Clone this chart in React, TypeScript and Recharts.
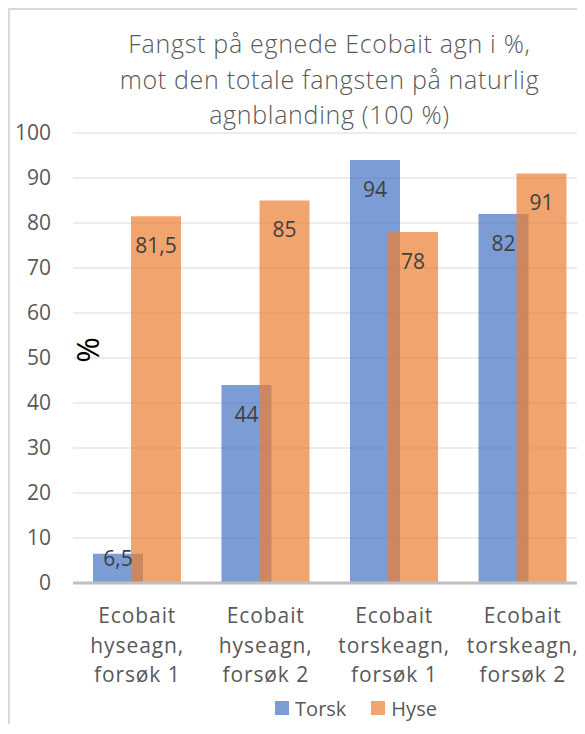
import { BarChart, Bar, XAxis, YAxis, CartesianGrid, Legend } from 'recharts';

const categories = [
  'Ecobait\nhyseagn,\nforsøk 1',
  'Ecobait\nhyseagn,\nforsøk 2',
  'Ecobait\ntorskeagn,\nforsøk 1',
  'Ecobait\ntorskeagn,\nforsøk 2',
];
const torsk = [6.5, 44, 94, 82];
const hyse = [81.5, 85, 78, 91];
const yTicks = [0, 10, 20, 30, 40, 50, 60, 70, 80, 90, 100];
const titleLines = [
  'Fangst på egnede Ecobait agn i %,',
  'mot den totale fangsten på naturlig',
  'agnblanding (100 %)',
];
const seriesNames = ['Torsk', 'Hyse'];
const seriesColors = ['#4472C4', '#ED7D31'];

const data = categories.map((name, i) => ({ name, Torsk: torsk[i], Hyse: hyse[i] }));

const FONT = '"Open Sans", "Noto Sans", sans-serif';

function XTick(props: any) {
  const { x, y, payload } = props;
  const lines = String(payload.value).split('\n');
  return (
    <text textAnchor="middle" fill="#595959" fontSize={21} letterSpacing={0.9}>
      {lines.map((l, i) => (
        <tspan key={i} x={x} y={y + 40 + i * 29.5}>{l}</tspan>
      ))}
    </text>
  );
}

function BarLabel(props: any) {
  const { x, y, width, height, value } = props;
  const cy = Math.min(y + 29, y + height - 25);
  return (
    <text x={x + width / 2} y={cy + 7.5} textAnchor="middle" fill="#404040" fontSize={21}>
      {String(value).replace('.', ',')}
    </text>
  );
}

function LegendContent() {
  return (
    <div style={{ display: 'flex', justifyContent: 'center', alignItems: 'center', height: 30 }}>
      {seriesNames.map((n, i) => (
        <div key={n} style={{ display: 'flex', alignItems: 'center', marginLeft: i ? 25 : 0 }}>
          <span style={{ width: 14, height: 14, background: seriesColors[i], opacity: 0.7, marginRight: 6 }} />
          <span style={{ fontSize: 20, color: '#595959' }}>{n}</span>
        </div>
      ))}
    </div>
  );
}

export default function App() {
  return (
    <div style={{ position: 'relative', width: 577, height: 716, overflow: 'hidden', fontFamily: FONT }}>
      <div style={{ position: 'absolute', left: 0, top: 0, width: 700, height: 800, borderLeft: '2px solid #d9d9d9', borderTop: '2px solid #d9d9d9', boxSizing: 'border-box' }} />
      <BarChart
        width={640}
        height={740}
        data={data}
        margin={{ top: 125, right: 61, left: 0, bottom: 15 }}
        barSize={50}
        barGap={-12}
      >
        <CartesianGrid vertical={false} stroke="#e6e6e6" strokeWidth={1.5} />
        <XAxis
          dataKey="name"
          height={120}
          tickSize={0}
          tickMargin={0}
          tick={<XTick />}
          axisLine={{ stroke: '#bfbfbf', strokeWidth: 3 }}
          tickLine={false}
          interval={0}
        />
        <YAxis
          width={65}
          domain={[0, 100]}
          ticks={yTicks}
          tickSize={0}
          tickMargin={22}
          axisLine={false}
          tickLine={false}
          tick={{ fontSize: 21, fill: '#595959' }}
        />
        <Legend
          verticalAlign="bottom"
          content={<LegendContent />}
          wrapperStyle={{ top: 685, left: 0, width: 696, height: 30, bottom: 'auto' }}
        />
        <Bar dataKey="Torsk" fill={seriesColors[0]} fillOpacity={0.7} isAnimationActive={false} label={<BarLabel />} />
        <Bar dataKey="Hyse" fill={seriesColors[1]} fillOpacity={0.7} isAnimationActive={false} label={<BarLabel />} />
      </BarChart>
      <svg width={577} height={716} style={{ position: 'absolute', left: 0, top: 0, pointerEvents: 'none' }}>
        {titleLines.map((t, i) => (
          <text key={i} x={321.5} y={45 + i * 35.5} textAnchor="middle" fill="#595959" fontSize={25} fontWeight={300} letterSpacing={0.7}>
            {t}
          </text>
        ))}
        <text x={79} y={342} transform="rotate(-90 79 342)" textAnchor="middle" dominantBaseline="central" fill="#000" fontSize={31}>
          %
        </text>
      </svg>
    </div>
  );
}
